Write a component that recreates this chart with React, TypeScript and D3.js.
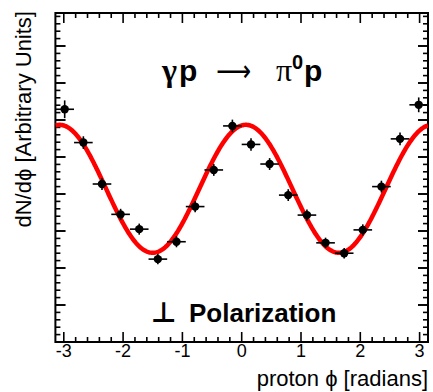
import React from "react";
import * as d3 from "d3";

const phiCenters = [-2.985, -2.670, -2.356, -2.042, -1.728, -1.414, -1.100, -0.785, -0.471, -0.157,
  0.157, 0.471, 0.785, 1.100, 1.414, 1.728, 2.042, 2.356, 2.670, 2.985];
const counts = [6.29, 5.39, 4.27, 3.45, 3.05, 2.24, 2.71, 3.66, 4.65, 5.84,
  5.34, 4.81, 3.97, 3.43, 2.68, 2.40, 3.03, 4.20, 5.49, 6.41];
const countErrors = [0.24, 0.17, 0.16, 0.15, 0.15, 0.14, 0.15, 0.15, 0.16, 0.17,
  0.17, 0.16, 0.16, 0.15, 0.14, 0.14, 0.15, 0.16, 0.17, 0.2];
const binHalfWidth = Math.PI / 20;
const xTickValues = [-3, -2, -1, 0, 1, 2, 3];
const xTickLabels = ["-3", "-2", "-1", "0", "1", "2", "3"];
// fit: A + B cos(2(phi - phi0))
const fitA = 4.14;
const fitB = 1.73;
const fitPhase = 0.07;

const W = 433, H = 392;
const L = 55.4, R = 428, T = 13, B = 342;

export default function App() {
  const x = d3.scaleLinear().domain([-Math.PI, Math.PI]).range([L, R]);
  const y = d3.scaleLinear().domain([0, (B - T) / 37]).range([B, T]);

  const xMinor = d3.range(-3.2, 3.2001, 0.2).map((v) => +v.toFixed(2)).filter((v) => v >= -Math.PI && v <= Math.PI);
  const yMinor = d3.range(0, y.domain()[1], 0.2).map((v) => +v.toFixed(2));
  const yMajor = d3.range(1, Math.floor(y.domain()[1]) + 1);

  const fitPts = d3.range(0, 401).map((i) => {
    const p = -Math.PI + (2 * Math.PI * i) / 400;
    return [p, fitA + fitB * Math.cos(2 * (p - fitPhase))] as [number, number];
  });
  const line = d3.line<[number, number]>().x((d) => x(d[0])).y((d) => y(d[1])).curve(d3.curveLinear);

  const isMajorX = (v: number) => Math.abs(v - Math.round(v)) < 1e-6;
  const isMajorY = (v: number) => Math.abs(v - Math.round(v)) < 1e-6 && v > 0;

  const sans = "'Liberation Sans', Arial, Helvetica, sans-serif";

  return (
    <svg width={W} height={H} style={{ position: "absolute", left: 0, top: 0, background: "#fff" }}>
      <rect x={0} y={0} width={W} height={H} fill="#fff" />
      <defs>
        <clipPath id="plotclip">
          <rect x={L} y={T} width={R - L} height={B - T} />
        </clipPath>
      </defs>
      {xMinor.map((v, i) => {
        const len = isMajorX(v) ? 10 : 5;
        return (
          <g key={"xt" + i} stroke="#000" strokeWidth={1.6}>
            <line x1={x(v)} x2={x(v)} y1={B} y2={B - len} />
            <line x1={x(v)} x2={x(v)} y1={T} y2={T + len} />
          </g>
        );
      })}
      {yMinor.map((v, i) => {
        const len = isMajorY(v) ? 10 : 5;
        return (
          <g key={"yt" + i} stroke="#000" strokeWidth={1.6}>
            <line x1={L} x2={L + len} y1={y(v)} y2={y(v)} />
            <line x1={R} x2={R - len} y1={y(v)} y2={y(v)} />
          </g>
        );
      })}
      {yMajor.map((v) => (
        <g key={"ym" + v} stroke="#000" strokeWidth={1.6}>
          <line x1={L} x2={L + 10} y1={y(v)} y2={y(v)} />
          <line x1={R} x2={R - 10} y1={y(v)} y2={y(v)} />
        </g>
      ))}
      <rect x={L} y={T} width={R - L} height={B - T} fill="none" stroke="#000" strokeWidth={2} />
      {xTickValues.map((v, i) => (
        <text key={"xl" + i} x={x(v)} y={357} textAnchor="middle" fontFamily={sans} fontSize={18}>
          {xTickLabels[i]}
        </text>
      ))}
      <path d={line(fitPts) || ""} fill="none" stroke="#ff0000" strokeWidth={4.5} clipPath="url(#plotclip)" />
      {phiCenters.map((p, i) => (
        <g key={"pt" + i} stroke="#000" strokeWidth={1.6}>
          <line x1={x(p - binHalfWidth)} x2={x(p + binHalfWidth)} y1={y(counts[i])} y2={y(counts[i])} />
          <line x1={x(p)} x2={x(p)} y1={y(counts[i] - countErrors[i])} y2={y(counts[i] + countErrors[i])} />
          <circle cx={x(p)} cy={y(counts[i])} r={4.2} fill="#000" stroke="none" />
        </g>
      ))}
      <text y={81} fontFamily={sans} fontSize={30}>
        <tspan x={162} fontFamily="'Liberation Serif', serif" fontWeight="bold" fontSize={32}>γ</tspan>
        <tspan x={179} fontWeight="bold">p</tspan>
        <tspan x={216} fontFamily="'DejaVu Sans', sans-serif" textLength={35} lengthAdjust="spacingAndGlyphs">⟶</tspan>
        <tspan x={276} fontFamily="'Liberation Serif', serif" fontSize={32}>π</tspan>
        <tspan x={292} dy={-12} fontWeight="bold" fontSize={20}>0</tspan>
        <tspan x={304} dy={12} fontWeight="bold">p</tspan>
      </text>
      <text y={322} fontFamily={sans} fontSize={26}>
        <tspan x={151} fontFamily="'DejaVu Sans', sans-serif" fontWeight="bold" fontSize={28}>⊥</tspan>
        <tspan x={189} fontWeight="bold">Polarization</tspan>
      </text>
      <text x={428} y={386} textAnchor="end" fontFamily={sans} fontSize={22}>
        proton ϕ [radians]
      </text>
      <text transform="translate(31,11) rotate(-90)" textAnchor="end" fontFamily={sans} fontSize={22}>
        dN/dϕ [Arbitrary Units]
      </text>
    </svg>
  );
}
